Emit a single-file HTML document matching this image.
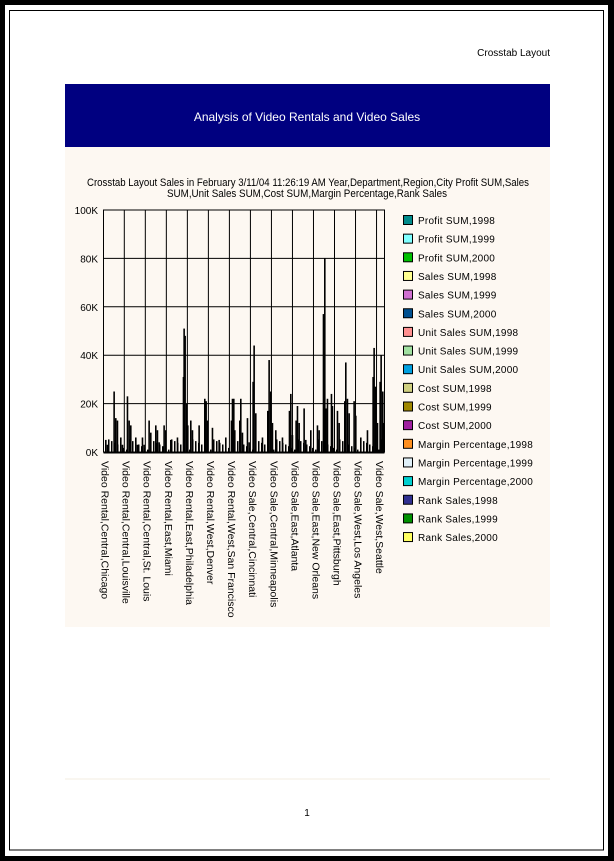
<!DOCTYPE html>
<html><head><meta charset="utf-8"><style>
html,body{margin:0;padding:0;background:#fff;width:614px;height:861px;overflow:hidden}
svg{display:block;font-family:"Liberation Sans",Arial,sans-serif}
</style></head><body>
<svg width="614" height="861" viewBox="0 0 614 861" xmlns="http://www.w3.org/2000/svg" id="s">
<rect x="0" y="0" width="614" height="861" fill="#000"/>
<rect x="5" y="5" width="603" height="851" fill="#fff"/>
<rect x="9.5" y="10.5" width="594" height="839.5" fill="none" stroke="#000" stroke-width="1"/>
<text x="550" y="56" font-size="10" text-anchor="end" fill="#000">Crosstab Layout</text>
<rect x="65" y="84" width="485" height="63" fill="#000080"/>
<text x="307" y="121" font-size="12" text-anchor="middle" fill="#fff">Analysis of Video Rentals and Video Sales</text>
<rect x="65" y="147" width="485" height="480" fill="#fdf8f2"/>
<text x="87" y="186" font-size="11" textLength="442" lengthAdjust="spacingAndGlyphs">Crosstab Layout Sales in February 3/11/04 11:26:19 AM Year,Department,Region,City Profit SUM,Sales</text>
<text x="167" y="197" font-size="11" textLength="280" lengthAdjust="spacingAndGlyphs">SUM,Unit Sales SUM,Cost SUM,Margin Percentage,Rank Sales</text>
<g id="plot"></g>
<g id="legend" font-size="10" letter-spacing="0.25"></g>
<line x1="65" y1="779" x2="550" y2="779" stroke="#f3ece0" stroke-width="1"/>
<text x="307" y="816" font-size="10" text-anchor="middle">1</text>
</svg>
<script>
var NS="http://www.w3.org/2000/svg",p=document.getElementById("plot");
function el(t,a,txt){var e=document.createElementNS(NS,t);for(var k in a)e.setAttribute(k,a[k]);if(txt)e.textContent=txt;return e;}
var x0=103.5,x1=384.5,y0=452,y1=210;
var small=[];
for(var x=105;x<383;x+=3){var h=1+((x*37)%7)*0.7;small.push([x,h]);}
var bars=[[135,5],[140,3],[160,25],[165,14],[170,13],[180,6],[185,3],[200,23],[205,13],[210,11],[225,6],[230,3],[245,6],[250,3],[265,13],[270,8],[285,11],[290,9],[295,4],[310,11],[315,9],[330,5],[350,6],[368,31],[370,51],[373,48],[378,20],[381,11],[390,13],[395,9],[415,11],[432,22],[436,21],[440,13],[455,10],[475,5],[495,6],[512,13],[515,22],[519,22],[522,9],[537,13],[540,22],[545,8],[560,14],[565,4],[577,29],[580,44],[585,16],[605,6],[621,17],[625,38],[630,25],[635,12],[645,9],[665,6],[686,17],[690,24],[695,7],[706,13],[710,19],[715,12],[730,18],[735,5],[750,9],[770,11],[775,9],[788,57],[792,80],[796,18],[800,22],[812,24],[815,19],[830,17],[835,12],[852,21],[855,37],[860,22],[865,16],[880,21],[885,15],[900,6],[920,9],[937,31],[940,43],[944,27],[950,12],[958,29],[961,40],[966,25],[970,12]];
var k=2.42;
small.forEach(function(b){p.appendChild(el("rect",{x:b[0],y:y0-b[1]*k,width:1.5,height:b[1]*k,fill:"#000"}));});
bars.forEach(function(b){var x=60+b[0]/3;p.appendChild(el("rect",{x:x,y:y0-b[1]*k,width:1.6,height:b[1]*k,fill:"#000"}));});
for(var i=1;i<=4;i++){var y=y0-(y0-y1)*i/5;p.appendChild(el("line",{x1:x0,x2:x1,y1:y,y2:y,stroke:"#000","stroke-width":1}));}
for(var i=1;i<=13;i++){var x=x0+21.5-1.2+21.02*(i-1)+0.5;p.appendChild(el("line",{x1:x,x2:x,y1:y1,y2:y0,stroke:"#000","stroke-width":1}));}
p.appendChild(el("rect",{x:x0,y:y1,width:x1-x0,height:y0-y1,fill:"none",stroke:"#000","stroke-width":1}));
p.appendChild(el("line",{x1:x0,x2:x1,y1:y0+0.5,y2:y0+0.5,stroke:"#000","stroke-width":2}));
var yl=["0K","20K","40K","60K","80K","100K"];
for(var i=0;i<6;i++){p.appendChild(el("text",{x:98,y:y0-(y0-y1)*i/5+4,"font-size":10,"text-anchor":"end"},yl[i]));}
var cats=["Video Rental,Central,Chicago","Video Rental,Central,Louisville","Video Rental,Central,St. Louis","Video Rental,East,Miami","Video Rental,East,Philadelphia","Video Rental,West,Denver","Video Rental,West,San Francisco","Video Sale,Central,Cincinnati","Video Sale,Central,Minneapolis","Video Sale,East,Atlanta","Video Sale,East,New Orleans","Video Sale,East,Pittsburgh","Video Sale,West,Los Angeles","Video Sale,West,Seattle"];
cats.forEach(function(c,i){var x=101.5+21.1*i;p.appendChild(el("text",{x:0,y:0,"font-size":10.5,transform:"translate("+x+",461) rotate(90)"},c));});
var lg=[["Profit SUM,1998","#008b8b"],["Profit SUM,1999","#80ffff"],["Profit SUM,2000","#00c000"],["Sales SUM,1998","#ffff90"],["Sales SUM,1999","#d070d0"],["Sales SUM,2000","#005090"],["Unit Sales SUM,1998","#ff9090"],["Unit Sales SUM,1999","#a0e0a0"],["Unit Sales SUM,2000","#00a0e0"],["Cost SUM,1998","#d0d080"],["Cost SUM,1999","#a08800"],["Cost SUM,2000","#a020a0"],["Margin Percentage,1998","#ff9020"],["Margin Percentage,1999","#e0f0f8"],["Margin Percentage,2000","#00d0d0"],["Rank Sales,1998","#303090"],["Rank Sales,1999","#009000"],["Rank Sales,2000","#ffff60"]];
var L=document.getElementById("legend");
lg.forEach(function(a,i){var y=215.5+18.65*i;L.appendChild(el("rect",{x:403.5,y:y,width:9,height:9,fill:a[1],stroke:"#000","stroke-width":1}));L.appendChild(el("text",{x:418,y:y+8.5},a[0]));});
</script>
</body></html>
